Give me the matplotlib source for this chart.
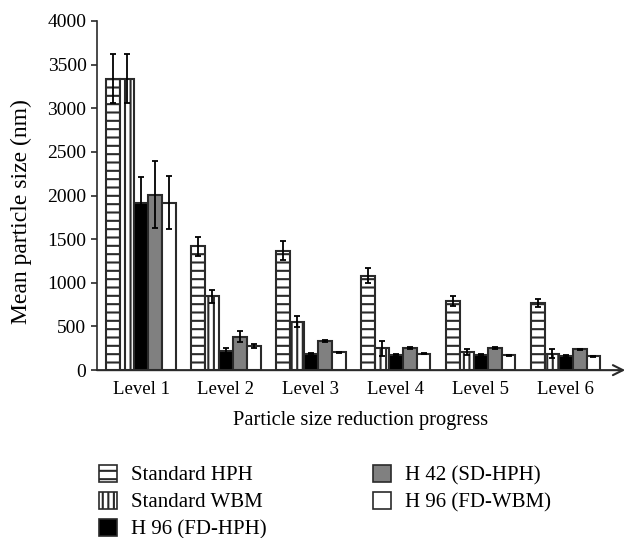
import numpy as np
import matplotlib
matplotlib.use("Agg")
import matplotlib.pyplot as plt
from matplotlib.patches import Patch

plt.rcParams["font.family"] = ["Liberation Serif", "DejaVu Serif"]
plt.rcParams["hatch.linewidth"] = 1.5

levels = ["Level 1", "Level 2", "Level 3", "Level 4", "Level 5", "Level 6"]
series = ["Standard HPH", "Standard WBM", "H 96 (FD-HPH)", "H 42 (SD-HPH)", "H 96 (FD-WBM)"]

std_hph = [3340, 1420, 1370, 1080, 790, 770]
std_hph_err = [285, 110, 105, 85, 55, 42]
std_wbm = [3340, 845, 555, 250, 210, 190]
std_wbm_err = [285, 75, 65, 85, 32, 52]
h96_fd_hph = [1920, 215, 190, 178, 178, 164]
h96_fd_hph_err = [297, 35, 10, 8, 8, 8]
h42_sd_hph = [2010, 385, 335, 255, 255, 240]
h42_sd_hph_err = [387, 60, 15, 8, 8, 6]
h96_fd_wbm = [1920, 272, 205, 186, 170, 160]
h96_fd_wbm_err = [300, 22, 8, 6, 5, 5]

values = [std_hph, std_wbm, h96_fd_hph, h42_sd_hph, h96_fd_wbm]
errors = [std_hph_err, std_wbm_err, h96_fd_hph_err, h42_sd_hph_err, h96_fd_wbm_err]
styles = [
    dict(color="white", hatch="--"),
    dict(color="white", hatch="|||"),
    dict(color="black", hatch=None),
    dict(color="#808080", hatch=None),
    dict(color="white", hatch=None),
]

fig = plt.figure(figsize=(6.29, 5.38), dpi=100)
ax = fig.add_axes([0.154, 0.312, 0.84, 0.649])

x = np.arange(len(levels))
width = 0.163
edge = "#2a2a2a"
for i, (vals, errs, st) in enumerate(zip(values, errors, styles)):
    pos = x + (i - 2) * width
    ax.bar(pos, vals, width, color=st["color"], hatch=st["hatch"],
           edgecolor=edge, linewidth=1.5, label=series[i], zorder=2)
    ax.errorbar(pos, vals, yerr=errs, fmt="none", ecolor="black",
                elinewidth=1.3, capsize=2.5, capthick=1.3, zorder=3)

ax.set_xlim(-0.52, 5.7)
ax.set_ylim(0, 4000)
ax.set_yticks(range(0, 4001, 500))
ax.set_xticks(x)
ax.set_xticklabels(levels)
ax.tick_params(axis="y", labelsize=14, direction="out", length=4, width=1.2, color=edge)
ax.tick_params(axis="x", labelsize=13.5, length=0, pad=8)
ax.set_ylabel("Mean particle size (nm)", fontsize=17)
ax.yaxis.set_label_coords(-0.123, 0.453)
ax.set_xlabel("Particle size reduction progress", fontsize=14.7, labelpad=9)

for s in ["top", "right", "bottom"]:
    ax.spines[s].set_visible(False)
ax.spines["left"].set_linewidth(1.2)
ax.spines["left"].set_color(edge)
ax.annotate("", xy=(1.0, 0), xycoords="axes fraction", xytext=(0, 0),
            arrowprops=dict(arrowstyle="->", color=edge, lw=1.5,
                            mutation_scale=18, shrinkA=0, shrinkB=0))

handles = [Patch(facecolor=st["color"], hatch=st["hatch"], edgecolor=edge,
                 linewidth=1.2, label=series[i]) for i, st in enumerate(styles)]
fig.legend(handles=handles, ncol=2, loc="upper left",
           bbox_to_anchor=(0.157, 0.136), bbox_transform=fig.transFigure,
           fontsize=15, frameon=False, handlelength=0.87, handleheight=0.87,
           handletextpad=0.67, labelspacing=0.3, columnspacing=5.1,
           borderaxespad=0, borderpad=0)

fig.savefig("out.png", dpi=100)
